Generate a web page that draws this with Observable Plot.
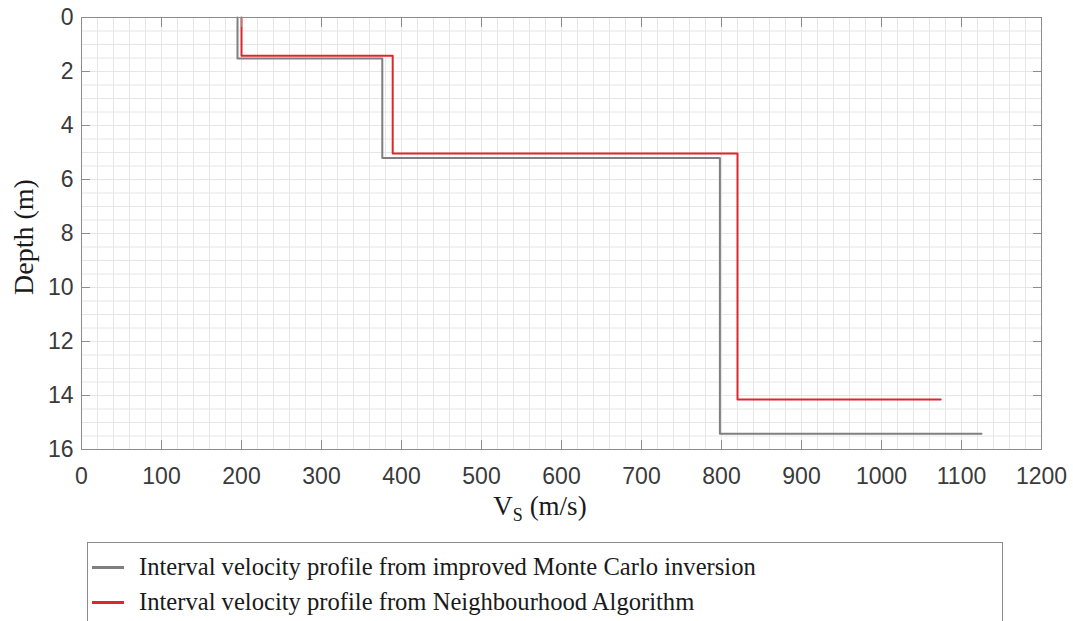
<!DOCTYPE html>
<html><head><meta charset="utf-8">
<script src="https://cdn.jsdelivr.net/npm/d3@7"></script>
<script src="https://cdn.jsdelivr.net/npm/@observablehq/plot@0.6"></script>
<style>
body{margin:0;background:#fff;}
#wrap{position:relative;width:1073px;height:621px;overflow:hidden;background:#fff;}
#legend{position:absolute;left:87px;top:542px;width:916px;height:110px;border:1.5px solid #8c8c8c;box-sizing:border-box;font-family:"Liberation Serif","Times New Roman",serif;font-size:24.6px;color:#1a1a1a;}
.row{position:absolute;left:0;height:30px;line-height:30px;white-space:nowrap;}
.sw{position:absolute;left:4px;top:14px;width:32px;height:2.5px;}
.lbl{position:absolute;left:51px;top:0;}
</style></head><body><div id="wrap"><div id="chart"></div><div id="legend"></div></div>
<script>
// Monte Carlo profile: layer velocities and layer top depths
const mcVs = [195, 376, 798, 1125];
const mcTop = [0, 1.52, 5.2, 15.42];
// Neighbourhood Algorithm profile
const naVs = [200, 389, 820, 1074];
const naTop = [0, 1.42, 5.04, 14.15];
const seriesNames = ["Interval velocity profile from improved Monte Carlo inversion", "Interval velocity profile from Neighbourhood Algorithm"];
const seriesColors = ["#7f7f7f", "#e0262c"];
const xTicks = d3.range(0, 1201, 100);
const yTicks = d3.range(0, 17, 2);
const xMinor = d3.range(0, 1201, 20);
const yMinor = d3.range(0, 16.01, 0.5);

function profile(vs, top, name) {
  const pts = [];
  vs.forEach((v, i) => {
    pts.push({vs: v, depth: top[i], name});
    if (i < vs.length - 1) pts.push({vs: v, depth: top[i + 1], name});
  });
  return pts;
}
const data = [
  ...profile(mcVs, mcTop, seriesNames[0]),
  ...profile(naVs, naTop, seriesNames[1])
];

const axisColor = "#8c8c8c";
const fmt = d3.format("d");
const chart = Plot.plot({
  width: 1073, height: 530,
  marginTop: 17, marginLeft: 81, marginRight: 32, marginBottom: 81,
  x: {domain: [0, 1200]},
  y: {domain: [0, 16], reverse: true},
  color: {domain: seriesNames, range: seriesColors},
  style: {fontFamily: "'Liberation Sans', Arial, sans-serif", fontSize: "23px", color: "#3a3a3a", background: "white"},
  marks: [
    Plot.gridX(xMinor, {stroke: "#e6e6e6", strokeOpacity: 1}),
    Plot.gridY(yMinor, {stroke: "#e6e6e6", strokeOpacity: 1}),
    Plot.line(data, {x: "vs", y: "depth", z: "name", stroke: "name", strokeWidth: 2}),
    Plot.frame({stroke: axisColor}),
    Plot.axisX(xTicks, {anchor: "bottom", tickSize: -9, tickPadding: 27, tickFormat: fmt, label: null, stroke: axisColor, fill: "#3a3a3a"}),
    Plot.axisX(xTicks, {anchor: "top", tickSize: -9, tickFormat: () => "", label: null, stroke: axisColor}),
    Plot.axisY(yTicks, {anchor: "left", tickSize: -9, tickPadding: 17, tickFormat: fmt, label: null, stroke: axisColor, fill: "#3a3a3a"}),
    Plot.axisY(yTicks, {anchor: "right", tickSize: -9, tickFormat: () => "", label: null, stroke: axisColor})
  ]
});
document.getElementById("chart").appendChild(chart);

const svg = d3.select(chart);
const serif = "'Liberation Serif','Times New Roman',serif";
const xl = svg.append("text")
  .attr("x", 540).attr("y", 515)
  .attr("text-anchor", "middle")
  .attr("font-family", serif).attr("font-size", 27).attr("fill", "#1a1a1a");
xl.append("tspan").text("V");
xl.append("tspan").attr("font-size", 18).attr("dy", 6).text("S");
xl.append("tspan").attr("dy", -6).text(" (m/s)");
svg.append("text")
  .attr("transform", "translate(33,237) rotate(-90)")
  .attr("text-anchor", "middle")
  .attr("font-family", serif).attr("font-size", 28).attr("fill", "#1a1a1a")
  .text("Depth (m)");

const legend = d3.select("#legend");
seriesNames.forEach((n, i) => {
  const row = legend.append("div").attr("class", "row").style("top", (9 + i * 35) + "px").style("width", "900px");
  row.append("div").attr("class", "sw").style("background", seriesColors[i]);
  row.append("div").attr("class", "lbl").text(n);
});
</script></body></html>
